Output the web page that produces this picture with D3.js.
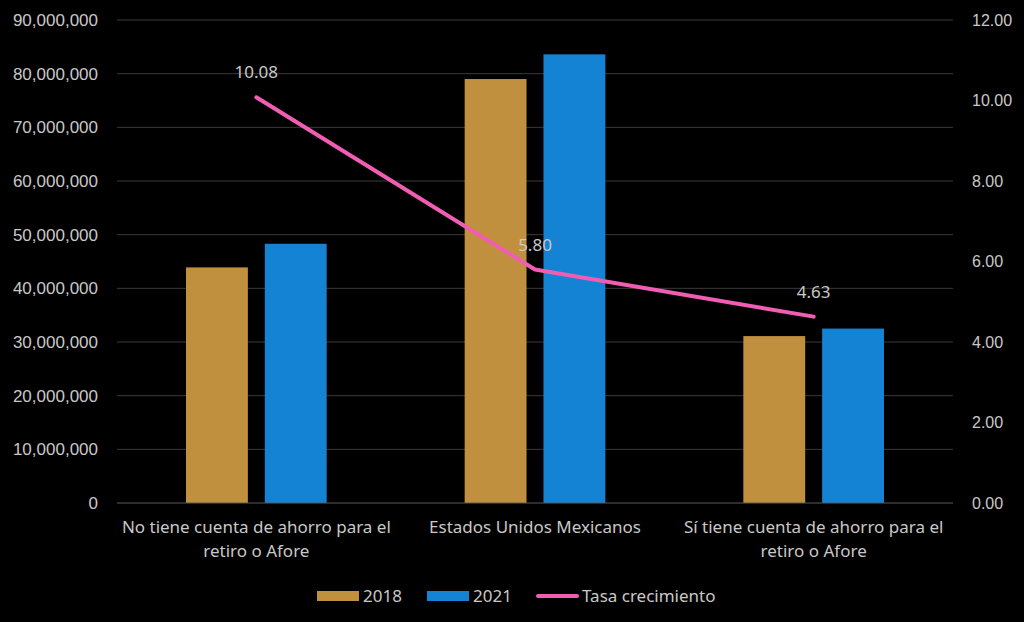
<!DOCTYPE html>
<html>
<head>
<meta charset="utf-8">
<script src="https://cdn.jsdelivr.net/npm/d3@7"></script>
<style>
  body { margin: 0; background: #000; }
  svg { display: block; font-family: "Noto Sans", sans-serif; }
</style>
</head>
<body>
<div id="chart"></div>
<script>
// categories (two-line labels)
var categories = [
    ["No tiene cuenta de ahorro para el", "retiro o Afore"],
    ["Estados Unidos Mexicanos"],
    ["Sí tiene cuenta de ahorro para el", "retiro o Afore"]
];
var series = ["2018", "2021"];
var values2018 = [43900000, 79000000, 31100000];
var values2021 = [48300000, 83600000, 32500000];
var tasa = [10.08, 5.80, 4.63];
var leftTicks = [0, 10000000, 20000000, 30000000, 40000000, 50000000, 60000000, 70000000, 80000000, 90000000];
var rightTicks = [0, 2, 4, 6, 8, 10, 12];

var colors = {"2018": "#C0903F", "2021": "#1583D3"};
var lineColor = "#F25DB4";
var textColor = "#C8C8C8";
var fs = 17;

var W = 1024, H = 622;
var margin = {top: 20, left: 117, right: 71, bottom: 119};
var width = W - margin.left - margin.right;
var height = H - margin.top - margin.bottom;

var svg = d3.select("#chart").append("svg").attr("width", W).attr("height", H);
svg.append("rect").attr("width", W).attr("height", H).attr("fill", "#000");
var g = svg.append("g").attr("transform", `translate(${margin.left},${margin.top})`);

var idx = categories.map((d, i) => i);
var x0 = d3.scaleBand().domain(idx).range([0, width]);
var x1 = d3.scaleBand().domain(series).range([69, x0.bandwidth() - 69]).paddingInner(0.215);
var yL = d3.scaleLinear().domain([0, 90000000]).range([height, 0]);
var yR = d3.scaleLinear().domain([0, 12]).range([height, 0]);

// gridlines
g.append("g").selectAll("line").data(leftTicks.slice(1)).enter().append("line")
    .attr("x1", 0).attr("x2", width)
    .attr("y1", d => yL(d)).attr("y2", d => yL(d))
    .attr("stroke", "#3a3a3a").attr("stroke-width", 1);

// left axis
var axL = g.append("g").call(d3.axisLeft(yL).tickValues(leftTicks).tickFormat(d3.format(",")).tickSize(0).tickPadding(19));
axL.select(".domain").remove();
axL.selectAll("text").attr("fill", textColor).attr("font-size", fs);

// right axis
var axR = g.append("g").attr("transform", `translate(${width},0)`)
    .call(d3.axisRight(yR).tickValues(rightTicks).tickFormat(d3.format(".2f")).tickSize(0).tickPadding(19));
axR.select(".domain").remove();
axR.selectAll("text").attr("fill", textColor).attr("font-size", 16);

// bars
var rows = idx.map(i => ({i: i, vals: [{k: "2018", v: values2018[i]}, {k: "2021", v: values2021[i]}]}));
var grp = g.selectAll(".cat").data(rows).enter().append("g")
    .attr("transform", d => `translate(${x0(d.i)},0)`);
grp.selectAll("rect").data(d => d.vals).enter().append("rect")
    .attr("x", d => x1(d.k)).attr("width", x1.bandwidth())
    .attr("y", d => yL(d.v)).attr("height", d => height - yL(d.v))
    .attr("fill", d => colors[d.k]);

// baseline
g.append("line").attr("x1", 0).attr("x2", width).attr("y1", height).attr("y2", height)
    .attr("stroke", "#5a5a5a").attr("stroke-width", 1);

// category labels
var cx = i => x0(i) + x0.bandwidth() / 2;
var catText = g.append("g").selectAll("text").data(idx).enter().append("text")
    .attr("x", cx).attr("y", height + 30)
    .attr("text-anchor", "middle").attr("fill", textColor).attr("font-size", fs);
catText.selectAll("tspan").data(i => categories[i].map(t => ({t: t, i: i}))).enter().append("tspan")
    .attr("x", d => cx(d.i)).attr("dy", (d, j) => j === 0 ? 0 : 24)
    .text(d => d.t);

// line
var line = d3.line().x(i => cx(i)).y(i => yR(tasa[i]));
g.append("path").datum(idx).attr("d", line)
    .attr("fill", "none").attr("stroke", lineColor).attr("stroke-width", 4)
    .attr("stroke-linecap", "round").attr("stroke-linejoin", "round");

// data labels
g.append("g").selectAll("text").data(idx).enter().append("text")
    .attr("x", cx).attr("y", i => yR(tasa[i]) - 25).attr("dy", "0.35em")
    .attr("text-anchor", "middle").attr("fill", textColor).attr("font-size", fs)
    .text(i => d3.format(".2f")(tasa[i]));

// legend
var legend = svg.append("g").attr("transform", "translate(0,596)");
var items = [
    {label: "2018", type: "bar", color: colors["2018"], x: 317},
    {label: "2021", type: "bar", color: colors["2021"], x: 427},
    {label: "Tasa crecimiento", type: "line", color: lineColor, x: 536}
];
items.forEach(function(it) {
    if (it.type === "bar") {
        legend.append("rect").attr("x", it.x).attr("y", -5).attr("width", 42).attr("height", 10).attr("fill", it.color);
    } else {
        legend.append("line").attr("x1", it.x + 2).attr("x2", it.x + 41).attr("y1", 0).attr("y2", 0)
            .attr("stroke", it.color).attr("stroke-width", 4).attr("stroke-linecap", "round");
    }
    legend.append("text").attr("x", it.x + 46).attr("y", 0).attr("dy", "0.35em")
        .attr("fill", textColor).attr("font-size", fs).text(it.label);
});
</script>
</body>
</html>
